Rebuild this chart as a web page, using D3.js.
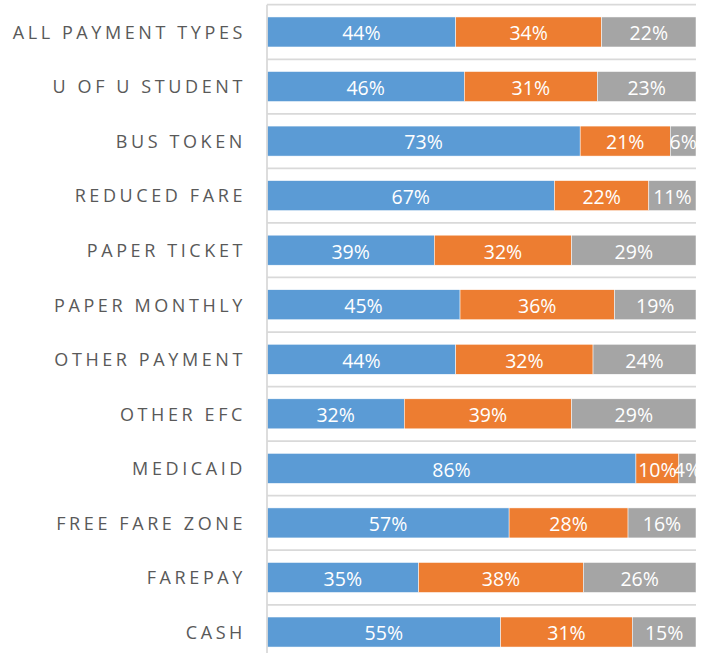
<!DOCTYPE html>
<html>
<head>
  <meta charset="utf-8">
  <title>Payment Types</title>
  <script src="https://d3js.org/d3.v7.min.js"></script>
  <style>
    body { margin: 0; background: #fff; }
    .cat { font-family: "Open Sans", sans-serif; font-size: 18px; fill: #595959; letter-spacing: 3.6px; }
    .val { font-family: "Open Sans", sans-serif; font-size: 19.5px; fill: #fff; }
  </style>
</head>
<body>
<div id="output"></div>
<script>
  var categories = ["ALL PAYMENT TYPES", "U OF U STUDENT", "BUS TOKEN", "REDUCED FARE",
    "PAPER TICKET", "PAPER MONTHLY", "OTHER PAYMENT", "OTHER EFC", "MEDICAID",
    "FREE FARE ZONE", "FAREPAY", "CASH"];
  var seriesA = [44, 46, 73, 67, 39, 45, 44, 32, 86, 57, 35, 55];
  var seriesB = [34, 31, 21, 22, 32, 36, 32, 39, 10, 28, 38, 31];
  var seriesC = [22, 23, 6, 11, 29, 19, 24, 29, 4, 16, 26, 15];
  var colors = ["#5B9BD5", "#ED7D31", "#A5A5A5"];

  var w = 711, h = 653;
  var plotLeft = 267, plotRight = 696, plotTop = 4.7, step = 54.55;

  var rows = categories.map(function(c, i) {
    return {cat: c, vals: [seriesA[i], seriesB[i], seriesC[i]]};
  });

  var x = d3.scaleLinear().domain([0, 1]).range([plotLeft, plotRight]);
  var y = d3.scaleBand().domain(categories)
    .range([plotTop, plotTop + step * categories.length])
    .paddingInner(0.45).paddingOuter(0.225);

  var svg = d3.select("#output").append("svg").attr("width", w).attr("height", h);

  // gridlines at band boundaries
  svg.selectAll(".grid").data(d3.range(categories.length + 1)).enter().append("line")
    .attr("x1", plotLeft).attr("x2", plotRight)
    .attr("y1", function(i) { return plotTop + i * y.step(); })
    .attr("y2", function(i) { return plotTop + i * y.step(); })
    .attr("stroke", "#d9d9d9").attr("stroke-width", 1.75);

  var g = svg.selectAll(".row").data(rows).enter().append("g")
    .attr("transform", function(d) { return "translate(0," + y(d.cat) + ")"; });

  g.each(function(d) {
    var total = d3.sum(d.vals), acc = 0;
    var segs = d.vals.map(function(v, k) {
      var s = {v: v, k: k, x0: acc / total, x1: (acc + v) / total};
      acc += v;
      return s;
    });
    var row = d3.select(this);
    row.selectAll("rect").data(segs).enter().append("rect")
      .attr("x", function(s) { return x(s.x0); })
      .attr("width", function(s) { return x(s.x1) - x(s.x0); })
      .attr("y", 0).attr("height", y.bandwidth())
      .attr("fill", function(s) { return colors[s.k]; })
      .attr("stroke", "#fff").attr("stroke-width", 0.5);
    row.selectAll(".val").data(segs).enter().append("text")
      .attr("class", "val")
      .attr("x", function(s) { return (x(s.x0) + x(s.x1)) / 2; })
      .attr("y", y.bandwidth() / 2)
      .attr("dy", "0.43em")
      .attr("text-anchor", "middle")
      .text(function(s) { return s.v + "%"; });
  });

  // category labels
  svg.selectAll(".cat").data(categories).enter().append("text")
    .attr("class", "cat")
    .attr("x", plotLeft - 21)
    .attr("y", function(c) { return y(c) + y.bandwidth() / 2; })
    .attr("dy", "0.38em")
    .attr("text-anchor", "end")
    .text(function(c) { return c; });

  // vertical axis line
  svg.append("line")
    .attr("x1", plotLeft).attr("x2", plotLeft)
    .attr("y1", plotTop).attr("y2", h)
    .attr("stroke", "#d9d9d9").attr("stroke-width", 1.75);
</script>
</body>
</html>
